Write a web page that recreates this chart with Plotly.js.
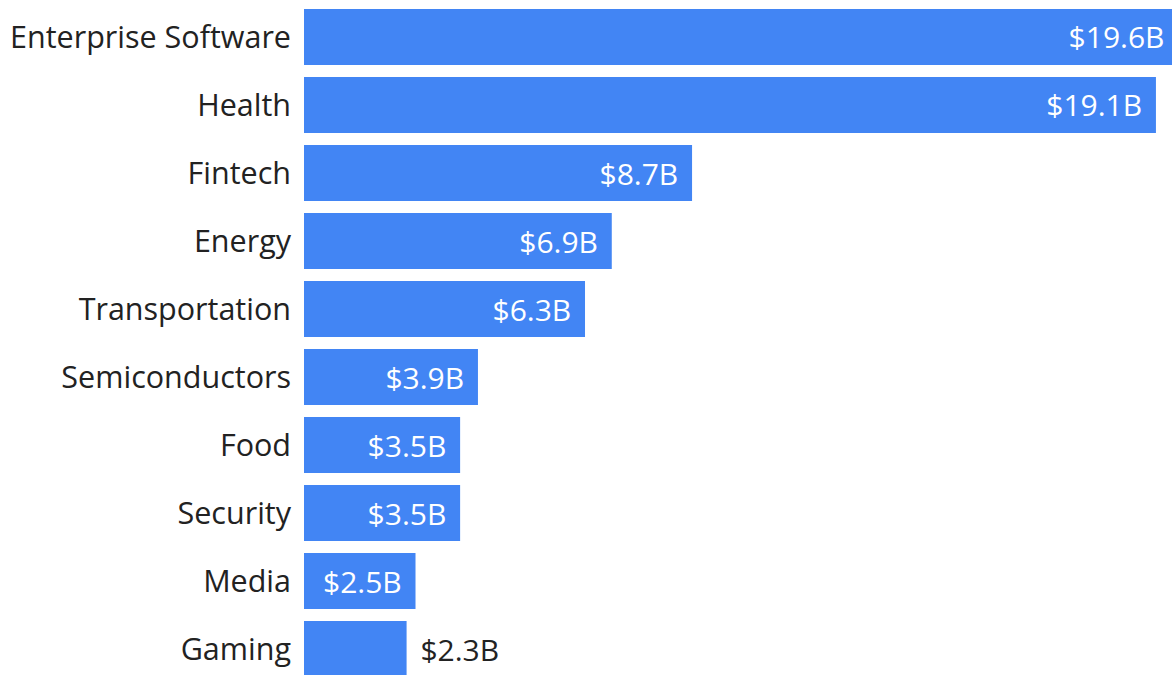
<!DOCTYPE html>
<html>
<head>
<meta charset="utf-8">
<script src="https://cdn.plot.ly/plotly-3.0.1.min.js"></script>
<style>
  html, body { margin: 0; padding: 0; background: #ffffff; }
  #chart { width: 1172px; height: 675px; }
</style>
</head>
<body>
<div id="chart"></div>
<script>
const categories = ["Enterprise Software", "Health", "Fintech", "Energy", "Transportation",
                    "Semiconductors", "Food", "Security", "Media", "Gaming"];
const funding = [19.6, 19.1, 8.7, 6.9, 6.3, 3.9, 3.5, 3.5, 2.5, 2.3];
const valueLabels = ["$19.6B", "$19.1B", "$8.7B", "$6.9B", "$6.3B",
                     "$3.9B", "$3.5B", "$3.5B", "$2.5B", "$2.3B"];

const PAD = "\u00A0\u200A";
const positions = funding.map((v, i) => i === funding.length - 1 ? "outside" : "inside");
const texts = valueLabels.map((t, i) => positions[i] === "inside" ? t + PAD : PAD + t);

const FONT = "'Open Sans', 'Noto Sans', sans-serif";

const trace = {
  type: "bar",
  orientation: "h",
  y: categories,
  x: funding,
  text: texts,
  textposition: positions,
  insidetextanchor: "end",
  textangle: 0,
  cliponaxis: true,
  insidetextfont: { family: FONT, size: 30, color: "#ffffff" },
  outsidetextfont: { family: FONT, size: 30, color: "#222222" },
  marker: { color: "#4285F4", line: { width: 0 } },
  hoverinfo: "none"
};

const layout = {
  width: 1172,
  height: 675,
  margin: { l: 304, r: 0, t: 0, b: 0, pad: 0 },
  paper_bgcolor: "#ffffff",
  plot_bgcolor: "#ffffff",
  showlegend: false,
  bargap: 0.176,
  font: { family: FONT, size: 30, color: "#222222" },
  xaxis: {
    range: [0, 19.46],
    showgrid: false, zeroline: false, showline: false,
    showticklabels: false, ticks: "", fixedrange: true
  },
  yaxis: {
    type: "category",
    range: [9.382, -0.544],
    automargin: false,
    showgrid: false, zeroline: false, showline: false,
    ticks: "",
    ticklabelstandoff: 12,
    tickfont: { family: FONT, size: 30.5, color: "#222222" },
    fixedrange: true
  }
};

Plotly.newPlot("chart", [trace], layout, { displayModeBar: false, staticPlot: true });
</script>
</body>
</html>
